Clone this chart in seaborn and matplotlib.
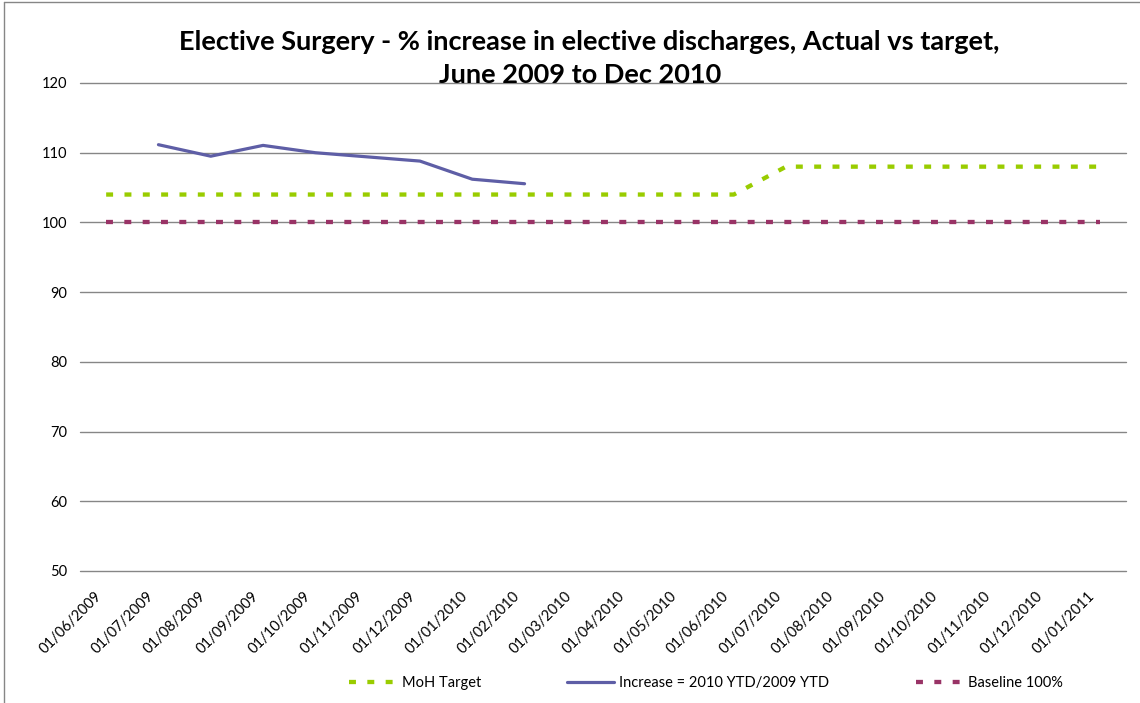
import numpy as np
import pandas as pd
import matplotlib
matplotlib.use("Agg")
import matplotlib.pyplot as plt
from matplotlib.lines import Line2D
from matplotlib.transforms import ScaledTranslation
import seaborn as sns

# Monthly categories
months = ["01/06/2009", "01/07/2009", "01/08/2009", "01/09/2009", "01/10/2009",
          "01/11/2009", "01/12/2009", "01/01/2010", "01/02/2010", "01/03/2010",
          "01/04/2010", "01/05/2010", "01/06/2010", "01/07/2010", "01/08/2010",
          "01/09/2010", "01/10/2010", "01/11/2010", "01/12/2010", "01/01/2011"]

moh_target = [104, 104, 104, 104, 104, 104, 104, 104, 104, 104, 104, 104, 104,
              108, 108, 108, 108, 108, 108, 108]
increase = [np.nan, 111.15, 109.5, 111.05, 110.0, 109.4, 108.8, 106.2, 105.55,
            np.nan, np.nan, np.nan, np.nan, np.nan, np.nan, np.nan, np.nan,
            np.nan, np.nan, np.nan]
baseline = [100] * 20

y_ticks = [50, 60, 70, 80, 90, 100, 110, 120]

sns.set_theme(style="white")
plt.rcParams["font.family"] = ["Lato", "DejaVu Sans"]
plt.rcParams["lines.scale_dashes"] = False
for key in ("text.color", "xtick.color", "ytick.color", "axes.labelcolor"):
    plt.rcParams[key] = "black"

df = pd.DataFrame({"pos": np.arange(len(months)), "month": months,
                   "target": moh_target, "increase": increase, "baseline": baseline})

fig = plt.figure(figsize=(11.4, 7.03), dpi=100)
ax = fig.add_axes([80 / 1140, 1 - 571 / 703, (1126 - 80) / 1140, (571 - 83) / 703])

green = "#99CC00"
purple = "#5E5EA6"
maroon = "#993366"
dots = (0, (5.0, 8.2))

sns.lineplot(data=df, x="pos", y="baseline", ax=ax, color=maroon, lw=3.1,
             linestyle=dots, dash_capstyle="butt", label="Baseline 100%", legend=False)
sns.lineplot(data=df, x="pos", y="target", ax=ax, color=green, lw=3.1,
             linestyle=dots, dash_capstyle="butt", label="MoH Target", legend=False)
sns.lineplot(data=df.dropna(), x="pos", y="increase", ax=ax, color=purple, lw=2.3,
             label="Increase = 2010 YTD/2009 YTD", legend=False)

ax.set_xlim(-0.5, len(months) - 0.5)
ax.set_ylim(50, 120)
ax.set_yticks(y_ticks)
ax.set_yticklabels([str(v) for v in y_ticks], fontsize=10.5)
ax.set_xticks(df["pos"])
ax.set_xticklabels(months, rotation=45, ha="right", rotation_mode="anchor", fontsize=10.5)
ax.tick_params(axis="both", length=0)
ax.tick_params(axis="y", pad=9)
ax.tick_params(axis="x", pad=11)
shift = ScaledTranslation(-12 / 100, -3 / 100, fig.dpi_scale_trans)
for lab in ax.get_xticklabels():
    lab.set_transform(lab.get_transform() + shift)
ax.yaxis.grid(True, color="#868686", lw=1)
for gl in ax.get_ygridlines():
    gl.set_clip_on(False)
ax.set_axisbelow(True)
ax.set_xlabel("")
ax.set_ylabel("")
for s in ax.spines.values():
    s.set_visible(False)

fig.text(0.517, 1 - 42 / 703, "Elective Surgery - % increase in elective discharges, Actual vs target,",
         ha="center", va="center", fontsize=19.5, fontweight="bold")
fig.text(0.509, 1 - 75 / 703, "June 2009 to Dec 2010",
         ha="center", va="center", fontsize=19.5, fontweight="bold")

handles = [
    Line2D([], [], color=green, lw=3.1, linestyle=dots, dash_capstyle="butt"),
    Line2D([], [], color=purple, lw=2.3),
    Line2D([], [], color=maroon, lw=3.1, linestyle=dots, dash_capstyle="butt"),
]
labels = ["MoH Target", "Increase = 2010 YTD/2009 YTD", "Baseline 100%"]
fig.legend(handles, labels, loc="center", bbox_to_anchor=(706 / 1140, 1 - 683 / 703),
           ncol=3, frameon=False, fontsize=10.5, handlelength=3.2, handletextpad=0.4,
           columnspacing=5.9)

# chart frame
fig.add_artist(Line2D([4 / 1140, 4 / 1140], [0, 1 - 2 / 703], transform=fig.transFigure,
                      color="#868686", lw=1))
fig.add_artist(Line2D([4 / 1140, 1], [1 - 2 / 703, 1 - 2 / 703], transform=fig.transFigure,
                      color="#868686", lw=1))

fig.savefig("out.png", dpi=100)
